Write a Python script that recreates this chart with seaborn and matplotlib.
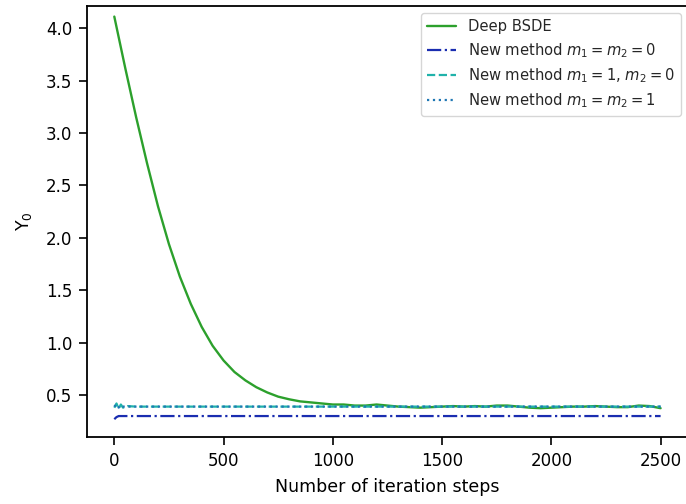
import numpy as np
import pandas as pd
import matplotlib
matplotlib.use("Agg")
import matplotlib.pyplot as plt
import seaborn as sns

# ---- data ----
bsde_steps = [0, 50, 100, 150, 200, 250, 300, 350, 400, 450, 500, 550, 600, 650, 700,
              750, 800, 850, 900, 950, 1000, 1050, 1100, 1150, 1200, 1250, 1300, 1350,
              1400, 1450, 1500, 1550, 1600, 1650, 1700, 1750, 1800, 1850, 1900, 1950,
              2000, 2050, 2100, 2150, 2200, 2250, 2300, 2350, 2400, 2450, 2500]
bsde_y0 = [4.11, 3.62, 3.15, 2.71, 2.30, 1.94, 1.63, 1.37, 1.15, 0.97, 0.83, 0.72, 0.64,
           0.575, 0.525, 0.485, 0.46, 0.44, 0.43, 0.42, 0.41, 0.41, 0.40, 0.40, 0.41, 0.40,
           0.39, 0.385, 0.38, 0.385, 0.39, 0.395, 0.39, 0.395, 0.39, 0.40, 0.40, 0.39,
           0.38, 0.375, 0.38, 0.385, 0.39, 0.39, 0.395, 0.39, 0.385, 0.385, 0.40, 0.395,
           0.375]

new_steps = [0, 10, 20, 30, 40, 60, 100, 250, 500, 750, 1000, 1250, 1500, 1750, 2000,
             2250, 2500]
new_m00 = [0.27, 0.29, 0.30, 0.30, 0.30, 0.30, 0.30, 0.30, 0.30, 0.30, 0.30, 0.30,
           0.30, 0.30, 0.30, 0.30, 0.30]
new_m10 = [0.38, 0.42, 0.37, 0.41, 0.38, 0.395, 0.39, 0.39, 0.39, 0.39, 0.39, 0.39,
           0.39, 0.39, 0.39, 0.39, 0.39]
new_m11 = [0.39, 0.41, 0.38, 0.40, 0.39, 0.39, 0.39, 0.39, 0.39, 0.39, 0.39, 0.39,
           0.39, 0.39, 0.39, 0.39, 0.39]

labels = ["Deep BSDE",
          "New method $m_1=m_2=0$",
          "New method $m_1=1$, $m_2=0$",
          "New method $m_1=m_2=1$"]
xlabel = "Number of iteration steps"
ylabel = "Y$_0$"

# ---- plot ----
sns.set_theme(style="ticks")
plt.rcParams["font.family"] = ["DejaVu Sans"]

fig = plt.figure(figsize=(6.86, 5.04), dpi=100)
ax = fig.add_axes([0.1268, 0.1329, 0.876, 0.855])

df_b = pd.DataFrame({"x": bsde_steps, "y": bsde_y0})
df_0 = pd.DataFrame({"x": new_steps, "y": new_m00})
df_1 = pd.DataFrame({"x": new_steps, "y": new_m10})
df_2 = pd.DataFrame({"x": new_steps, "y": new_m11})

sns.lineplot(data=df_b, x="x", y="y", ax=ax, color="#2ca02c", linewidth=1.7,
             label=labels[0])
sns.lineplot(data=df_0, x="x", y="y", ax=ax, color="#1a2db0", linewidth=1.6,
             linestyle="-.", label=labels[1])
sns.lineplot(data=df_1, x="x", y="y", ax=ax, color="#20b2aa", linewidth=1.6,
             linestyle="--", label=labels[2])
sns.lineplot(data=df_2, x="x", y="y", ax=ax, color="#1f77b4", linewidth=1.6,
             linestyle=":", label=labels[3])

ax.set_xlim(-125, 2625)
ax.set_ylim(0.10, 4.21)
ax.set_xticks([0, 500, 1000, 1500, 2000, 2500])
ax.set_yticks([0.5, 1.0, 1.5, 2.0, 2.5, 3.0, 3.5, 4.0])
ax.set_xlabel(xlabel, fontsize=12.5, color="black", labelpad=6)
ax.set_ylabel(ylabel, fontsize=12.5, color="black", labelpad=9)
ax.tick_params(axis="both", labelsize=12, length=5.5, width=1.2, colors="black",
               direction="out", pad=5)
for s in ax.spines.values():
    s.set_linewidth(1.3)
    s.set_color("black")
    s.set_visible(True)

leg = ax.legend(loc="upper right", fontsize=10.6, frameon=True, fancybox=True,
                framealpha=0.8, edgecolor="#cccccc", borderaxespad=0.5,
                labelspacing=0.45)

fig.savefig("out.png", dpi=100)
